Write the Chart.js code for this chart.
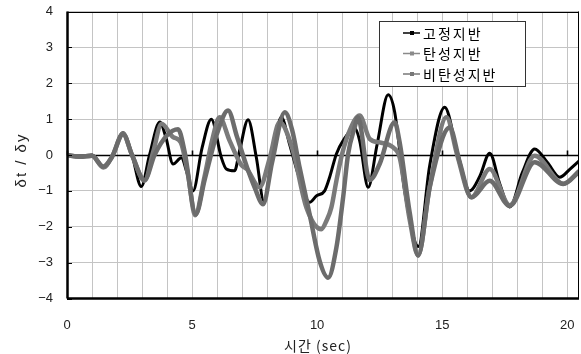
<!DOCTYPE html>
<html>
<head>
<meta charset="utf-8">
<script src="https://cdn.jsdelivr.net/npm/chart.js@4/dist/chart.umd.min.js"></script>
<style>
  html, body { margin: 0; padding: 0; background: #fff; }
  #wrap { width: 581px; height: 354px; }
</style>
</head>
<body>
<div id="wrap"><canvas id="c" width="581" height="354"></canvas></div>
<script>
// Series names
const seriesNames = ['고정지반', '탄성지반', '비탄성지반'];

// 고정지반 (fixed base): time [sec] and δt/δy
const fixedT = [0, 0.5, 1.0, 1.5, 1.8, 2.24, 2.6, 2.97, 3.3, 3.71, 3.95, 4.24, 4.57, 4.8, 5.04, 5.4, 5.77, 6.17, 6.37, 6.7, 6.9, 7.24, 7.57, 7.87, 8.2, 8.57, 8.9, 9.24, 9.7, 9.97, 10.3, 10.5, 10.77, 11.04, 11.5, 11.7, 12.04, 12.4, 12.84, 13.1, 13.5, 14.05, 14.5, 15.1, 15.6, 16.1, 16.5, 16.9, 17.3, 17.7, 18.2, 18.7, 19.2, 19.7, 20.1, 20.5];
const fixedV = [0, -0.03, 0, -0.35, -0.05, 0.62, 0, -0.88, 0.0, 0.92, 0.5, -0.25, -0.08, -0.5, -1.0, 0.2, 1.0, -0.07, -0.39, -0.44, 0.12, 0.98, -0.07, -1.28, -0.1, 1.05, 0.3, -0.53, -1.32, -1.14, -1.0, -0.62, 0.03, 0.4, 0.75, 0.4, -0.9, 0.3, 1.68, 1.2, -1.0, -2.55, -0.3, 1.33, 0.1, -1.0, -0.6, 0.05, -0.8, -1.45, -0.5, 0.17, -0.2, -0.62, -0.4, -0.15];

// 탄성지반 (elastic base)
const elasticT = [0, 0.5, 1.0, 1.45, 1.8, 2.24, 2.6, 3.1, 3.45, 3.78, 4.24, 4.55, 4.85, 5.12, 5.5, 5.8, 6.1, 6.5, 6.97, 7.2, 7.7, 8.1, 8.5, 9.0, 9.57, 10.17, 10.37, 10.57, 10.77, 11.0, 11.3, 11.7, 12.1, 12.5, 13.04, 13.3, 13.7, 14.04, 14.5, 15.17, 15.6, 16.17, 16.9, 17.7, 18.7, 19.84, 20.5];
const elasticV = [0, -0.05, -0.02, -0.35, -0.05, 0.6, 0, -0.72, 0.1, 0.87, 0.5, 0.35, -0.6, -1.68, -0.6, 0.4, 1.05, 0.4, -0.28, -0.4, -0.9, -0.1, 0.91, 0.2, -1.46, -2.07, -1.84, -1.46, -0.72, 0.03, 0.68, 1.1, 0.45, 0.35, 0.21, -0.07, -1.8, -2.8, -0.9, 1.05, 0.0, -1.18, -0.39, -1.4, -0.02, -0.8, -0.44];

// 비탄성지반 (inelastic base)
const inelasticT = [0, 0.5, 1.0, 1.45, 1.8, 2.24, 2.6, 3.1, 3.5, 4.0, 4.44, 4.7, 5.15, 5.5, 6.0, 6.44, 6.8, 7.2, 7.5, 7.84, 8.2, 8.71, 9.0, 9.3, 9.7, 10.1, 10.44, 10.77, 11.04, 11.24, 11.5, 11.63, 12.1, 12.5, 13.1, 13.3, 13.7, 14.04, 14.5, 15.3, 15.7, 16.17, 16.9, 17.7, 18.7, 19.84, 20.5];
const inelasticV = [0, -0.05, -0.02, -0.32, -0.05, 0.58, 0, -0.7, 0, 0.55, 0.72, 0.1, -1.65, -0.7, 0.6, 1.24, 0.5, -0.35, -0.9, -1.37, -0.2, 1.19, 0.7, -0.35, -1.65, -2.95, -3.42, -2.58, -1.18, 0.03, 0.77, 1.05, -0.7, -0.25, 0.91, 0.35, -1.6, -2.8, -0.9, 0.77, -0.2, -1.18, -0.72, -1.42, -0.2, -0.81, -0.44];

// Axis ticks and labels
const xGridValues = [0, 1, 2, 3, 4, 5, 6, 7, 8, 9, 10, 11, 12, 13, 14, 15, 16, 17, 18, 19, 20];
const xTickLabels = ['0', '5', '10', '15', '20'];
const yTickValues = [-4, -3, -2, -1, 0, 1, 2, 3, 4];
const yTickLabels = ['−4', '−3', '−2', '−1', '0', '1', '2', '3', '4'];
const xTitle = '시간 (sec)';
const yTitle = 'δt / δy';

const toPoints = (ts, vs) => ts.map((t, i) => ({ x: t, y: vs[i] }));

const FONT = "'Liberation Sans', Arial, 'Noto Sans CJK KR', sans-serif";
const KFONT = "'Noto Sans CJK KR', 'Liberation Sans', sans-serif";

// Keep the plot box fixed: no extra room for overhanging edge labels
function noEdgePadding(scale) {
  scale.paddingLeft = 0;
  scale.paddingRight = 0;
  scale.paddingTop = 0;
  scale.paddingBottom = 0;
}

// Frame, zero axis with its ticks, axis titles and the boxed legend
const framePlugin = {
  id: 'frame',
  beforeDatasetsDraw(chart) {
    const { ctx, chartArea: a, scales: { x, y } } = chart;
    const y0 = Math.round(y.getPixelForValue(0)) + 0.5;
    ctx.save();
    ctx.strokeStyle = '#000';
    ctx.lineWidth = 1.6;
    ctx.beginPath();
    ctx.moveTo(a.left, y0); ctx.lineTo(a.right, y0);
    xTickLabels.forEach(l => {
      const px = Math.round(x.getPixelForValue(Number(l))) + 0.5;
      ctx.moveTo(px, y0); ctx.lineTo(px, y0 - 5);
    });
    ctx.stroke();
    ctx.restore();
  },
  afterDraw(chart) {
    const { ctx, chartArea: a, scales: { y } } = chart;
    ctx.save();
    ctx.strokeStyle = '#000';
    // top and right edges
    ctx.lineWidth = 1;
    ctx.beginPath();
    ctx.moveTo(a.left, Math.round(a.top) + 0.5); ctx.lineTo(a.right, Math.round(a.top) + 0.5);
    ctx.moveTo(Math.round(a.right) - 0.5, a.top); ctx.lineTo(Math.round(a.right) - 0.5, a.bottom);
    ctx.stroke();
    // bottom and left edges
    ctx.lineWidth = 2.5;
    ctx.beginPath();
    ctx.moveTo(a.left, a.bottom); ctx.lineTo(a.right, a.bottom);
    ctx.moveTo(a.left + 0.5, a.top); ctx.lineTo(a.left + 0.5, a.bottom);
    ctx.stroke();
    // inside ticks on the value axis
    ctx.lineWidth = 1.2;
    ctx.beginPath();
    yTickValues.forEach(v => {
      const py = Math.round(y.getPixelForValue(v)) + 0.5;
      ctx.moveTo(a.left, py); ctx.lineTo(a.left + 5, py);
    });
    ctx.stroke();

    // axis titles
    ctx.fillStyle = '#222';
    ctx.textAlign = 'center';
    ctx.textBaseline = 'middle';
    ctx.font = '14px ' + KFONT;
    ctx.letterSpacing = '1px';
    ctx.fillText(xTitle, 318, 346);
    ctx.save();
    ctx.translate(22, 160);
    ctx.rotate(-Math.PI / 2);
    ctx.font = '15px ' + FONT;
    ctx.letterSpacing = '2px';
    ctx.fillText(yTitle, 0, 0);
    ctx.restore();

    // legend
    const bx = 379.5, by = 21.5, bw = 146, bh = 65;
    ctx.fillStyle = '#fff';
    ctx.fillRect(bx, by, bw, bh);
    ctx.strokeStyle = '#333';
    ctx.lineWidth = 1;
    ctx.strokeRect(bx, by, bw, bh);
    ctx.font = '14px ' + KFONT;
    ctx.letterSpacing = '2px';
    ctx.textBaseline = 'middle';
    ctx.textAlign = 'left';
    chart.data.datasets.forEach((ds, i) => {
      const ly = 33 + i * 20.5;
      ctx.strokeStyle = ds.legendColor;
      ctx.lineWidth = 1.5;
      ctx.beginPath();
      ctx.moveTo(403, ly); ctx.lineTo(420, ly);
      ctx.stroke();
      ctx.fillStyle = ds.legendColor;
      ctx.fillRect(410, ly - 2, 4, 4);
      ctx.fillStyle = '#000';
      ctx.fillText(ds.label, 423, ly + 0.5);
    });
    ctx.restore();
  }
};

new Chart(document.getElementById('c'), {
  type: 'line',
  data: {
    datasets: [
      {
        label: seriesNames[0],
        data: toPoints(fixedT, fixedV),
        borderColor: '#000000',
        legendColor: '#000000',
        borderWidth: 3,
        order: 3
      },
      {
        label: seriesNames[1],
        data: toPoints(elasticT, elasticV),
        borderColor: '#7a7a7a',
        legendColor: '#8a8a8a',
        borderWidth: 4.5,
        order: 2
      },
      {
        label: seriesNames[2],
        data: toPoints(inelasticT, inelasticV),
        borderColor: '#6c6c6c',
        legendColor: '#777777',
        borderWidth: 4.5,
        order: 1
      }
    ]
  },
  options: {
    responsive: false,
    animation: false,
    events: [],
    layout: { padding: { left: 0, right: 2, top: 11.5, bottom: 0 } },
    elements: {
      point: { radius: 0 },
      line: { cubicInterpolationMode: 'monotone', fill: false }
    },
    plugins: { legend: { display: false }, tooltip: { enabled: false } },
    scales: {
      x: {
        type: 'linear',
        min: 0,
        max: 20.47,
        afterBuildTicks(scale) { scale.ticks = xGridValues.map(v => ({ value: v })); },
        afterFit(scale) { scale.height = 55.5; noEdgePadding(scale); },
        ticks: {
          autoSkip: false,
          maxRotation: 0,
          padding: 19,
          color: '#222',
          font: { size: 13, family: FONT },
          callback(v) { return xTickLabels.includes(String(v)) ? String(v) : ''; }
        },
        grid: { color: '#c4c4c4', lineWidth: 1, drawTicks: false },
        border: { display: false }
      },
      y: {
        min: -4,
        max: 4,
        afterBuildTicks(scale) { scale.ticks = yTickValues.map(v => ({ value: v })); },
        afterFit(scale) { scale.width = 67; noEdgePadding(scale); },
        ticks: {
          padding: 14,
          color: '#222',
          font: { size: 13, family: FONT },
          callback(v) { return yTickLabels[yTickValues.indexOf(v)]; }
        },
        grid: { color: '#c4c4c4', lineWidth: 1, drawTicks: false },
        border: { display: false }
      }
    }
  },
  plugins: [framePlugin]
});
</script>
</body>
</html>
